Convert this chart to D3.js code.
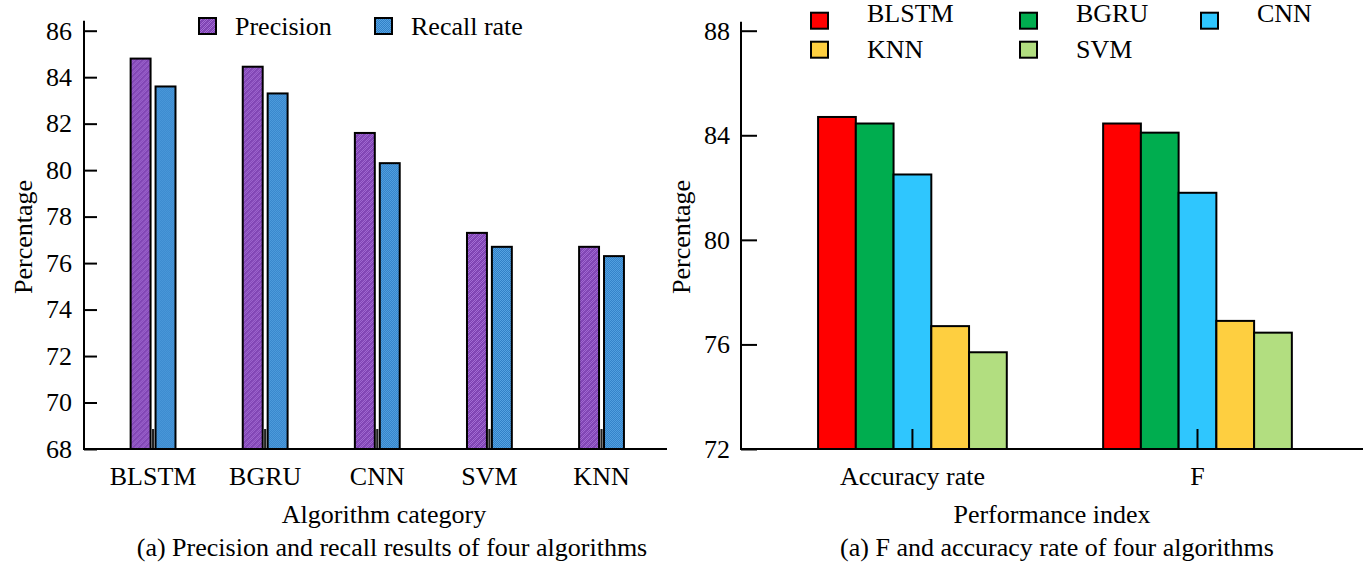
<!DOCTYPE html>
<html>
<head>
<meta charset="utf-8">
<script src="https://cdn.jsdelivr.net/npm/d3@7"></script>
<style>
  html, body { margin: 0; padding: 0; background: #fff; }
  svg text { font-family: "Liberation Serif", "Times New Roman", serif; fill: #000; }
</style>
</head>
<body>
<svg id="chart" width="1363" height="565"></svg>
<script>
// Left panel: precision and recall per algorithm
const algorithms = ["BLSTM", "BGRU", "CNN", "SVM", "KNN"];
const metricNames = ["Precision", "Recall rate"];
const precision = [84.8, 84.45, 81.6, 77.3, 76.7];
const recallRate = [83.6, 83.3, 80.3, 76.7, 76.3];
const leftTicks = [68, 70, 72, 74, 76, 78, 80, 82, 84, 86];

// Right panel: accuracy rate and F per model
const indexNames = ["Accuracy rate", "F"];
const models = ["BLSTM", "BGRU", "CNN", "KNN", "SVM"];
const accuracyRate = [84.7, 84.45, 82.5, 76.7, 75.7];
const fValue = [84.45, 84.1, 81.8, 76.9, 76.45];
const rightTicks = [72, 76, 80, 84, 88];
const legendRows = [["BLSTM", "BGRU", "CNN"], ["KNN", "SVM"]];

const svg = d3.select("#chart");
const defs = svg.append("defs");

// fine checker texture with a faint diagonal stripe
function texture(id, light, dark, stripe) {
  const p = defs.append("pattern").attr("id", id)
    .attr("patternUnits", "userSpaceOnUse").attr("width", 6).attr("height", 6);
  p.append("rect").attr("width", 6).attr("height", 6).attr("fill", light);
  for (let i = 0; i < 6; i++) for (let j = 0; j < 6; j++) {
    if ((i + j) % 2 === 0) p.append("rect").attr("x", i).attr("y", j)
      .attr("width", 1).attr("height", 1).attr("fill", dark);
  }
  if (stripe) p.append("path").attr("d", "M0,6 L6,0 M-1,1 L1,-1 M5,7 L7,5")
    .attr("stroke", stripe).attr("stroke-width", 1).attr("opacity", 0.55);
}
texture("purpleTex", "#a46fd4", "#7e40b2", "#6a2e9e");
texture("blueTex", "#55a2e2", "#3180c6", null);

const seriesFillA = d3.scaleOrdinal().domain(metricNames).range(["url(#purpleTex)", "url(#blueTex)"]);
const colorB = d3.scaleOrdinal().domain(models)
  .range(["#ff0000", "#00ad4f", "#2fc6fe", "#fecf40", "#b2de80"]);

const FONT = 26;

// ---------- Left panel ----------
{
  const x0 = 84, x1 = 667, yB = 449, yT = 30.7;
  const y = d3.scaleLinear().domain([68, 86]).range([yB, yT]);
  const x = d3.scaleBand().domain(algorithms).range([x0, x1])
    .paddingInner(0.6).paddingOuter(0.4).align(0.52);
  const xs = d3.scaleBand().domain(metricNames).range([0, x.bandwidth()]).paddingInner(0.2);
  const rows = algorithms.map((a, i) => ({ a, vals: [precision[i], recallRate[i]] }));

  const g = svg.append("g");
  const grp = g.selectAll("g.grp").data(rows).join("g")
    .attr("transform", d => `translate(${x(d.a)},0)`);
  grp.selectAll("rect").data(d => d.vals.map((v, k) => ({ m: metricNames[k], v })))
    .join("rect")
    .attr("x", d => xs(d.m)).attr("width", xs.bandwidth())
    .attr("y", d => y(d.v)).attr("height", d => yB - y(d.v))
    .attr("fill", d => seriesFillA(d.m))
    .attr("stroke", "#000").attr("stroke-width", 2);

  // y axis
  const ay = g.append("g").attr("transform", `translate(${x0},0)`)
    .call(d3.axisLeft(y).tickValues(leftTicks).tickSizeInner(-13).tickSizeOuter(0).tickPadding(12));
  ay.select(".domain").remove();
  ay.selectAll(".tick line").attr("stroke", "#000").attr("stroke-width", 2);
  ay.selectAll(".tick text").attr("font-size", FONT).attr("font-family", null);
  g.append("line").attr("x1", x0).attr("x2", x0).attr("y1", yB + 1).attr("y2", yT - 10)
    .attr("stroke", "#000").attr("stroke-width", 2);

  // x axis
  const ax = g.append("g").attr("transform", `translate(0,${yB})`)
    .call(d3.axisBottom(x).tickSizeInner(-20).tickSizeOuter(0).tickPadding(18));
  ax.select(".domain").remove();
  ax.selectAll(".tick line").attr("stroke", "#222").attr("stroke-width", 2.2);
  ax.selectAll(".tick text").attr("font-size", FONT).attr("font-family", null);
  g.append("line").attr("x1", x0 - 1).attr("x2", x1).attr("y1", yB).attr("y2", yB)
    .attr("stroke", "#000").attr("stroke-width", 2);

  g.append("text").attr("transform", `translate(32,237) rotate(-90)`)
    .attr("text-anchor", "middle").attr("font-size", FONT).text("Percentage");
  g.append("text").attr("x", 384).attr("y", 523).attr("text-anchor", "middle")
    .attr("font-size", FONT).text("Algorithm category");
  g.append("text").attr("x", 392).attr("y", 556).attr("text-anchor", "middle")
    .attr("font-size", FONT).text("(a) Precision and recall results of four algorithms");

  // legend
  const legX = [199, 375];
  const lg = g.selectAll("g.leg").data(metricNames).join("g")
    .attr("transform", (d, i) => `translate(${legX[i]},18)`);
  lg.append("rect").attr("width", 17).attr("height", 16)
    .attr("fill", d => seriesFillA(d)).attr("stroke", "#000").attr("stroke-width", 2);
  lg.append("text").attr("x", 36).attr("y", 16.5).attr("font-size", FONT).text(d => d);
}

// ---------- Right panel ----------
{
  const x0 = 741, x1 = 1363, yB = 449, yT = 30.7;
  const y = d3.scaleLinear().domain([72, 88]).range([yB, yT]);
  const x = d3.scaleBand().domain(indexNames).range([x0, x1])
    .paddingInner(0.338).paddingOuter(0.26).align(0.52);
  const xs = d3.scaleBand().domain(models).range([0, x.bandwidth()]);
  const rows = indexNames.map((n, i) => ({ n, vals: i === 0 ? accuracyRate : fValue }));

  const g = svg.append("g");
  const grp = g.selectAll("g.grp").data(rows).join("g")
    .attr("transform", d => `translate(${x(d.n)},0)`);
  grp.selectAll("rect").data(d => d.vals.map((v, k) => ({ m: models[k], v })))
    .join("rect")
    .attr("x", d => xs(d.m)).attr("width", xs.bandwidth())
    .attr("y", d => y(d.v)).attr("height", d => yB - y(d.v))
    .attr("fill", d => colorB(d.m))
    .attr("stroke", "#000").attr("stroke-width", 2);

  const ay = g.append("g").attr("transform", `translate(${x0},0)`)
    .call(d3.axisLeft(y).tickValues(rightTicks).tickSizeInner(-16).tickSizeOuter(0).tickPadding(11));
  ay.select(".domain").remove();
  ay.selectAll(".tick line").attr("stroke", "#000").attr("stroke-width", 2);
  ay.selectAll(".tick text").attr("font-size", FONT).attr("font-family", null);
  g.append("line").attr("x1", x0).attr("x2", x0).attr("y1", yB + 1).attr("y2", yT - 9)
    .attr("stroke", "#000").attr("stroke-width", 2);

  const ax = g.append("g").attr("transform", `translate(0,${yB})`)
    .call(d3.axisBottom(x).tickSizeInner(-20).tickSizeOuter(0).tickPadding(18));
  ax.select(".domain").remove();
  ax.selectAll(".tick line").attr("stroke", "#000").attr("stroke-width", 2);
  ax.selectAll(".tick text").attr("font-size", FONT).attr("font-family", null);
  g.append("line").attr("x1", x0 - 1).attr("x2", x1).attr("y1", yB).attr("y2", yB)
    .attr("stroke", "#000").attr("stroke-width", 2);

  g.append("text").attr("transform", `translate(690,237) rotate(-90)`)
    .attr("text-anchor", "middle").attr("font-size", FONT).text("Percentage");
  g.append("text").attr("x", 1052).attr("y", 523).attr("text-anchor", "middle")
    .attr("font-size", FONT).text("Performance index");
  g.append("text").attr("x", 1057).attr("y", 556).attr("text-anchor", "middle")
    .attr("font-size", FONT).text("(a) F and accuracy rate of four algorithms");

  // two-row legend
  const colX = [811, 1020, 1201];
  const rowSquareY = [12.7, 41.7];
  const rowTextY = [21.5, 57.5];
  legendRows.forEach((row, r) => {
    const lg = g.selectAll(`g.leg${r}`).data(row).join("g")
      .attr("transform", (d, i) => `translate(${colX[i]},0)`);
    lg.append("rect").attr("y", rowSquareY[r]).attr("width", 17).attr("height", 16)
      .attr("fill", d => colorB(d)).attr("stroke", "#000").attr("stroke-width", 2);
    lg.append("text").attr("x", 56).attr("y", rowTextY[r]).attr("font-size", FONT).text(d => d);
  });
}
</script>
</body>
</html>
